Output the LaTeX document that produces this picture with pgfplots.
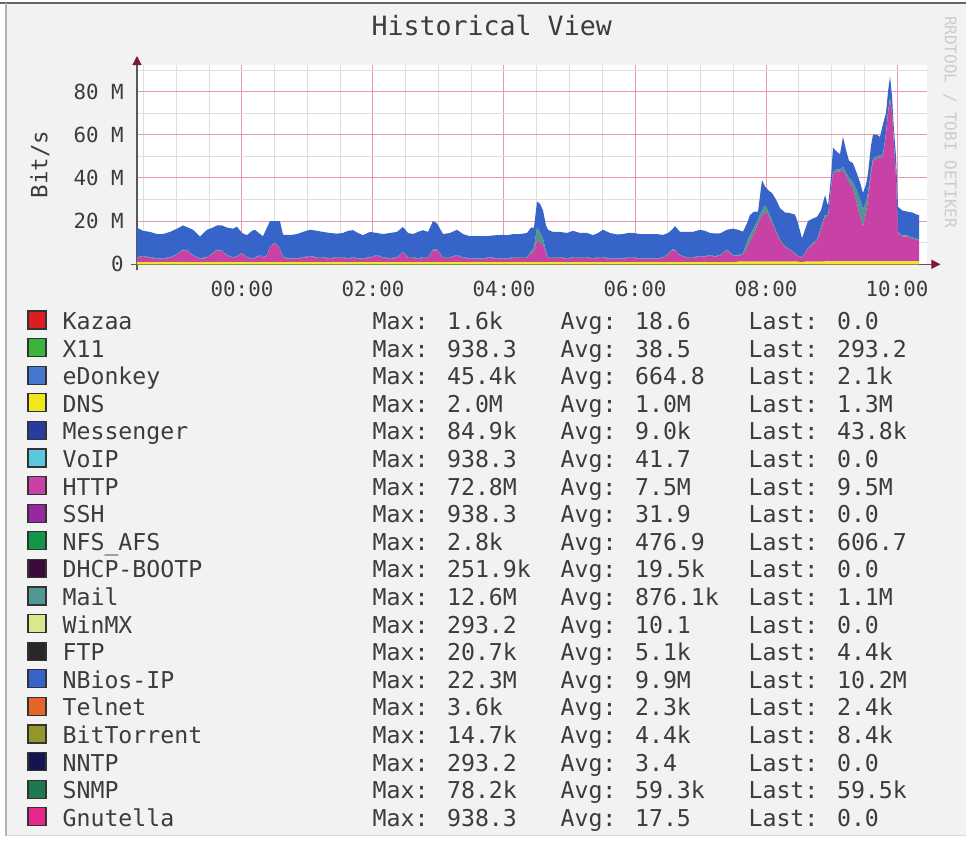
\documentclass[border=0pt]{standalone}
\usepackage{fontspec}
\setmainfont{DejaVu Sans Mono}
\usepackage{pgfplots}
\usepackage{pgfplotstable}
\pgfplotsset{compat=1.18}
\usetikzlibrary{arrows.meta}

\definecolor{bgc}{RGB}{242,242,242}
\definecolor{txt}{RGB}{60,60,60}
\definecolor{majgrid}{RGB}{238,150,170}
\definecolor{mingrid}{RGB}{222,222,222}
\definecolor{arrowred}{RGB}{130,20,60}
\definecolor{cKazaa}{RGB}{220,30,30}
\definecolor{cXeleven}{RGB}{60,180,60}
\definecolor{ceDonkey}{RGB}{70,120,210}
\definecolor{cDNS}{RGB}{240,232,30}
\definecolor{cMessenger}{RGB}{40,60,160}
\definecolor{cVoIP}{RGB}{90,200,220}
\definecolor{cHTTP}{RGB}{200,66,165}
\definecolor{cSSH}{RGB}{150,40,160}
\definecolor{cNFS}{RGB}{20,150,70}
\definecolor{cDHCP}{RGB}{60,10,60}
\definecolor{cMail}{RGB}{80,150,145}
\definecolor{cWinMX}{RGB}{220,230,140}
\definecolor{cFTP}{RGB}{40,40,40}
\definecolor{cNBios}{RGB}{55,100,200}
\definecolor{cTelnet}{RGB}{230,100,40}
\definecolor{cBitTorrent}{RGB}{150,150,40}
\definecolor{cNNTP}{RGB}{20,20,80}
\definecolor{cSNMP}{RGB}{30,120,80}
\definecolor{cGnutella}{RGB}{230,40,140}

\newcommand\tickfont{\fontsize{10.4pt}{12pt}\selectfont}
\newcommand\legfont{\fontsize{11.6pt}{13.75pt}\selectfont}
\newcommand\titlefont{\fontsize{13.3pt}{16pt}\selectfont}
\newcommand\LE[4]{\rule[-2.75pt]{0pt}{13.75pt}\makebox[155pt][l]{#1}\makebox[94pt][l]{Max: #2}\makebox[94pt][l]{Avg: #3}Last: #4}

% time in hours from 00:00, values in Mbit/s
\pgfplotstableread{
t dns http mail nbios
-1.603 1.0 2.0 0.3 13.7
-1.511 1.0 2.5 0.3 11.7
-1.405 1.0 2.0 0.3 11.7
-1.298 0.9 1.6 0.3 11.2
-1.206 1.0 1.5 0.3 11.2
-1.099 1.0 2.0 0.3 11.7
-0.992 1.1 3.4 0.3 11.7
-0.901 1.0 5.5 0.3 11.2
-0.824 1.0 5.0 0.3 10.7
-0.748 1.0 3.0 0.3 11.7
-0.641 0.9 1.6 0.3 10.0
-0.534 1.0 2.0 0.3 12.7
-0.443 1.0 4.0 0.3 11.7
-0.382 1.1 5.4 0.3 11.2
-0.305 1.0 5.0 0.3 11.7
-0.229 1.0 3.0 0.3 12.7
-0.137 1.0 2.0 0.3 13.2
-0.076 1.0 2.5 0.3 13.6
0.000 1.0 4.0 0.3 9.2
0.076 1.0 2.0 0.3 10.2
0.153 0.9 1.6 0.3 12.7
0.198 1.0 2.0 0.3 12.7
0.275 1.0 3.0 0.3 9.7
0.321 1.0 2.0 0.3 9.7
0.382 1.0 3.0 0.3 12.7
0.427 1.0 7.0 0.3 11.7
0.504 1.0 8.8 0.3 9.9
0.580 1.0 6.0 0.3 12.7
0.626 1.0 2.0 0.3 10.4
0.733 0.9 1.6 0.3 10.7
0.840 1.0 1.5 0.3 11.2
0.931 1.0 2.0 0.3 11.7
1.038 1.0 2.5 0.3 12.2
1.145 1.0 2.0 0.3 12.2
1.237 1.0 2.0 0.3 11.7
1.344 0.9 1.6 0.3 11.7
1.450 1.0 2.0 0.3 10.9
1.542 1.0 2.0 0.3 11.2
1.618 0.9 1.6 0.3 12.7
1.695 1.0 2.0 0.3 12.5
1.771 0.9 1.6 0.3 11.7
1.847 1.0 1.5 0.3 10.7
1.954 1.0 2.0 0.3 11.7
2.061 1.0 3.0 0.3 10.2
2.153 1.0 2.0 0.3 10.7
2.260 0.9 1.6 0.3 11.7
2.366 1.0 2.0 0.3 11.7
2.458 1.0 4.5 0.3 11.5
2.534 1.0 2.0 0.3 11.2
2.611 1.0 2.0 0.3 10.7
2.687 0.9 1.6 0.3 12.2
2.763 1.0 2.0 0.3 12.5
2.840 1.0 2.0 0.3 11.7
2.916 1.0 5.5 0.3 13.2
2.977 1.0 5.5 0.3 12.2
3.069 1.0 2.0 0.3 10.7
3.176 1.0 2.0 0.3 11.2
3.282 1.0 3.0 0.3 11.7
3.374 1.0 2.0 0.3 10.7
3.481 0.9 1.6 0.3 10.2
3.588 1.0 1.5 0.3 10.2
3.679 1.0 1.5 0.3 10.2
3.786 1.0 2.0 0.3 9.9
3.893 0.9 1.6 0.3 10.7
3.985 1.0 1.5 0.3 10.8
4.061 1.0 1.5 0.3 10.7
4.137 1.0 2.0 0.3 10.7
4.244 1.0 2.0 0.3 10.7
4.351 1.0 2.0 0.3 11.2
4.412 1.0 4.0 1.0 11.0
4.458 1.0 5.0 2.0 9.0
4.504 1.0 10.0 6.0 12.0
4.550 1.0 9.0 5.0 13.0
4.595 1.0 8.0 3.0 13.0
4.641 1.0 4.0 1.0 12.0
4.672 1.0 2.0 0.3 12.7
4.748 1.0 2.0 0.3 11.7
4.855 1.0 2.0 0.3 11.7
4.962 0.9 1.6 0.3 11.7
5.053 1.0 2.0 0.3 12.2
5.160 1.0 2.0 0.3 11.2
5.267 1.0 2.0 0.3 11.2
5.359 0.9 1.6 0.3 10.7
5.435 1.0 2.0 0.3 11.2
5.511 1.0 2.0 0.3 12.7
5.618 0.9 1.6 0.3 11.7
5.725 1.0 1.5 0.3 11.0
5.817 1.0 1.5 0.3 11.2
5.893 1.0 2.0 0.3 11.2
5.969 1.0 2.0 0.3 11.2
6.076 0.9 1.6 0.3 11.2
6.153 1.0 1.5 0.3 11.2
6.229 1.0 1.5 0.3 11.2
6.336 1.0 1.5 0.3 11.2
6.427 1.0 2.0 0.3 10.3
6.504 1.0 3.5 0.3 9.7
6.565 1.0 5.5 0.3 9.2
6.611 1.0 5.5 0.3 10.9
6.687 1.0 3.0 0.3 10.7
6.794 1.0 2.0 0.3 11.7
6.885 1.0 2.0 0.3 11.7
6.992 1.0 2.5 0.3 12.2
7.069 1.1 2.4 0.3 11.7
7.145 1.0 3.0 0.3 10.2
7.221 1.0 2.5 0.3 10.5
7.298 1.0 3.0 0.3 10.0
7.405 1.0 5.5 0.3 9.2
7.496 1.0 3.0 0.3 12.2
7.573 1.2 2.8 0.3 11.7
7.649 1.2 3.3 0.5 10.1
7.710 1.2 6.3 3.0 8.5
7.756 1.2 9.3 3.0 9.3
7.817 1.2 12.8 3.0 7.4
7.878 1.2 17.8 2.0 3.4
7.939 1.2 20.8 3.0 14.0
7.985 1.2 23.2 3.0 8.6
8.046 1.2 20.8 2.0 10.0
8.092 1.2 17.8 1.0 13.0
8.153 1.2 13.8 0.5 14.5
8.214 1.2 9.8 0.5 14.5
8.290 1.2 6.8 0.3 15.7
8.366 1.2 5.4 0.3 16.8
8.443 1.2 3.8 0.3 17.7
8.489 1.2 2.3 0.3 15.2
8.550 1.0 2.0 0.3 8.7
8.595 1.2 3.8 0.3 10.7
8.641 1.2 5.8 0.5 12.5
8.702 1.2 7.8 0.5 11.5
8.779 1.2 9.8 0.5 10.5
8.840 1.2 14.8 1.0 8.0
8.901 1.3 20.7 1.0 9.0
8.947 1.3 20.7 0.5 4.5
8.992 1.3 33.7 0.5 4.5
9.023 1.3 40.7 1.0 11.0
9.084 1.3 41.7 1.0 8.0
9.130 1.3 41.7 1.0 7.0
9.176 1.3 42.4 1.5 13.8
9.221 1.3 39.7 1.5 10.5
9.267 1.3 36.7 2.0 8.0
9.328 1.3 33.7 3.0 8.8
9.389 1.3 26.7 6.0 8.0
9.435 1.3 20.7 8.0 8.0
9.481 1.3 16.1 8.0 7.6
9.527 1.3 22.7 5.0 8.0
9.557 1.3 28.5 3.0 9.2
9.603 1.3 40.7 1.5 11.5
9.634 1.3 46.7 1.0 11.0
9.695 1.3 47.7 1.0 10.0
9.740 1.3 48.2 1.0 8.5
9.786 1.3 48.7 1.0 14.0
9.832 1.3 58.7 1.0 9.0
9.863 1.3 68.7 1.0 9.0
9.893 1.3 74.7 1.0 10.0
9.924 1.3 68.7 1.0 7.0
9.954 1.3 53.7 1.0 6.0
9.985 1.3 38.7 1.0 9.0
10.015 1.3 13.1 0.5 11.8
10.076 1.3 11.7 0.5 11.5
10.153 1.3 11.5 0.5 11.1
10.229 1.3 10.7 0.5 11.5
10.305 1.3 10.0 0.5 11.2
10.336 1.3 9.7 0.5 11.3
}\traffic

\begin{document}
\begin{tikzpicture}
\useasboundingbox (0,0) rectangle (483pt,421pt);
\fill[white] (0,0) rectangle (483pt,421pt);
\fill[bgc] (3pt,3pt) rectangle (483pt,419.5pt);
\draw[black!60, line width=1pt] (0,419.5pt) -- (483pt,419.5pt);
\draw[black!30, line width=0.6pt] (3pt,3pt) -- (3pt,419.5pt);
\draw[black!15, line width=0.6pt] (3pt,3.3pt) -- (483pt,3.3pt);

\begin{axis}[
  scale only axis, width=395pt, height=99.65pt,
  at={(68.5pt,288.85pt)}, anchor=south west,
  xmin=-1.603, xmax=10.458, ymin=0, ymax=92.3,
  axis background/.style={fill=white},
  axis line style={draw=none}, tick style={draw=none},
  xtick={0,2,4,6,8,10},
  xticklabels={00:00,02:00,04:00,06:00,08:00,10:00},
  minor xtick={-1.5,-1,-0.5,0.5,1,1.5,2.5,3,3.5,4.5,5,5.5,6.5,7,7.5,8.5,9,9.5,10.5},
  ytick={0,20,40,60,80},
  yticklabels={0,20 M,40 M,60 M,80 M},
  minor ytick={10,30,50,70,90},
  grid=both,
  major grid style={majgrid, line width=0.5pt},
  minor grid style={mingrid, line width=0.45pt},
  xticklabel style={font=\tickfont, text=txt, inner sep=0pt, yshift=-8pt},
  yticklabel style={font=\tickfont, text=txt, inner sep=0pt, xshift=-6.5pt},
  ylabel={Bit/s},
  ylabel style={at={(axis description cs:-0.1228,0.5)}, anchor=center, font=\fontsize{11.2pt}{13pt}\selectfont, text=txt},
  title={Historical View},
  title style={at={(axis description cs:0.449,1.14)}, anchor=center, font=\titlefont, text=txt},
  stack plots=y,
  clip mode=individual,
  legend image code/.code={\draw[#1,draw=black!80,line width=0.6pt] (0pt,-4.5pt) rectangle (9pt,4.5pt);},
  legend cell align=left,
  legend style={at={(axis description cs:-0.1392,-0.2143)}, anchor=north west,
    draw=none, fill=none, inner sep=0pt, row sep=1.3pt, column sep=8pt,
    nodes={inner sep=0pt, text=txt, font=\legfont}},
]
\addlegendimage{fill=cKazaa}\addlegendentry{\LE{Kazaa}{1.6k}{18.6}{0.0}}
\addlegendimage{fill=cXeleven}\addlegendentry{\LE{X11}{938.3}{38.5}{293.2}}
\addlegendimage{fill=ceDonkey}\addlegendentry{\LE{eDonkey}{45.4k}{664.8}{2.1k}}
\addplot[fill=cDNS, draw=none] table[x=t,y=dns]{\traffic} \closedcycle;
\addlegendentry{\LE{DNS}{2.0M}{1.0M}{1.3M}}
\addlegendimage{fill=cMessenger}\addlegendentry{\LE{Messenger}{84.9k}{9.0k}{43.8k}}
\addlegendimage{fill=cVoIP}\addlegendentry{\LE{VoIP}{938.3}{41.7}{0.0}}
\addplot[fill=cHTTP, draw=none] table[x=t,y=http]{\traffic} \closedcycle;
\addlegendentry{\LE{HTTP}{72.8M}{7.5M}{9.5M}}
\addlegendimage{fill=cSSH}\addlegendentry{\LE{SSH}{938.3}{31.9}{0.0}}
\addlegendimage{fill=cNFS}\addlegendentry{\LE{NFS\_AFS}{2.8k}{476.9}{606.7}}
\addlegendimage{fill=cDHCP}\addlegendentry{\LE{DHCP-BOOTP}{251.9k}{19.5k}{0.0}}
\addplot[fill=cMail, draw=none] table[x=t,y=mail]{\traffic} \closedcycle;
\addlegendentry{\LE{Mail}{12.6M}{876.1k}{1.1M}}
\addlegendimage{fill=cWinMX}\addlegendentry{\LE{WinMX}{293.2}{10.1}{0.0}}
\addlegendimage{fill=cFTP}\addlegendentry{\LE{FTP}{20.7k}{5.1k}{4.4k}}
\addplot[fill=cNBios, draw=none] table[x=t,y=nbios]{\traffic} \closedcycle;
\addlegendentry{\LE{NBios-IP}{22.3M}{9.9M}{10.2M}}
\addlegendimage{fill=cTelnet}\addlegendentry{\LE{Telnet}{3.6k}{2.3k}{2.4k}}
\addlegendimage{fill=cBitTorrent}\addlegendentry{\LE{BitTorrent}{14.7k}{4.4k}{8.4k}}
\addlegendimage{fill=cNNTP}\addlegendentry{\LE{NNTP}{293.2}{3.4}{0.0}}
\addlegendimage{fill=cSNMP}\addlegendentry{\LE{SNMP}{78.2k}{59.3k}{59.5k}}
\addlegendimage{fill=cGnutella}\addlegendentry{\LE{Gnutella}{938.3}{17.5}{0.0}}

\draw[black!65, line width=0.6pt, -{Triangle[length=4.5pt,width=4.5pt,color=arrowred]}]
  (axis description cs:0,-0.03) -- (axis description cs:0,1.045);
\draw[black!65, line width=0.6pt, -{Triangle[length=4.5pt,width=4.5pt,color=arrowred]}]
  (axis description cs:-0.008,0) -- (axis description cs:1.017,0);
\end{axis}

\node[rotate=-90, text=black!20, font=\fontsize{8pt}{9pt}\selectfont] at (475pt,360pt) {RRDTOOL / TOBI OETIKER};
\end{tikzpicture}
\end{document}
